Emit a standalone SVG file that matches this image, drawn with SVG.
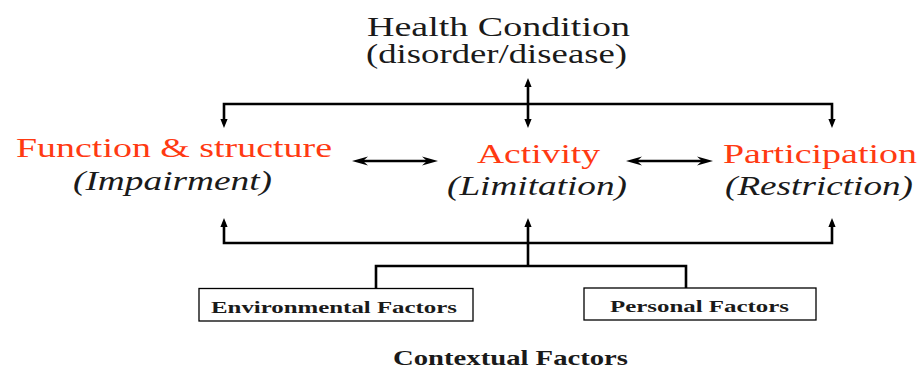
<svg xmlns="http://www.w3.org/2000/svg" width="920" height="371" viewBox="0 0 920 371">
  <defs>
    <marker id="ah" viewBox="0 0 10 10" refX="5" refY="5" markerWidth="9" markerHeight="9" markerUnits="userSpaceOnUse" orient="auto-start-reverse">
      <path d="M0,1 L10,5 L0,9 z" fill="#000"/>
    </marker>
    <marker id="hh" viewBox="0 0 16 10" refX="8" refY="5" markerWidth="16" markerHeight="10" markerUnits="userSpaceOnUse" orient="auto-start-reverse">
      <path d="M0,0.5 L16,5 L0,9.5 L5,5 z" fill="#000"/>
    </marker>
    <style>
      .ln { fill: none; stroke: #000; stroke-width: 2.6; }
      .box { fill: #fff; stroke: #000; stroke-width: 1.3; }
      .big { font-size: 27px; fill: #1a1a1a; }
      .red { font-size: 28px; fill: #ff3a12; }
      .it { font-size: 28px; font-style: italic; fill: #1a1a1a; }
      .bx { font-size: 17px; font-weight: bold; fill: #1a1a1a; }
      .ctx { font-size: 21px; font-weight: bold; fill: #1a1a1a; }
    </style>
  </defs>

  <g id="connectors">
    <path class="ln" d="M528,82.5 V123.5" marker-start="url(#ah)" marker-end="url(#ah)"/>
    <path class="ln" d="M224,123.5 V104 H832 V123.5" marker-start="url(#ah)" marker-end="url(#ah)"/>
    <path class="ln" d="M224,222.5 V243 H832 V222.5" marker-start="url(#ah)" marker-end="url(#ah)"/>
    <path class="ln" d="M528,266 V222.5" marker-end="url(#ah)"/>
    <path class="ln" d="M376,288 V266 H686 V288"/>
    <path class="ln" d="M360,161 H430" stroke-width="3" marker-start="url(#hh)" marker-end="url(#hh)"/>
    <path class="ln" d="M634,161 H705" stroke-width="3" marker-start="url(#hh)" marker-end="url(#hh)"/>
  </g>

  <g font-family="Liberation Serif, Times New Roman, serif">
  <g id="health-condition">
    <text class="big" x="367" y="36" textLength="263" lengthAdjust="spacingAndGlyphs">Health Condition</text>
    <text class="big" x="366" y="63" textLength="261" lengthAdjust="spacingAndGlyphs">(disorder/disease)</text>
  </g>

  <g id="function-structure">
    <text class="red" x="16" y="157" textLength="316" lengthAdjust="spacingAndGlyphs">Function &amp; structure</text>
    <text class="it" x="73" y="190" textLength="199" lengthAdjust="spacingAndGlyphs">(Impairment)</text>
  </g>

  <g id="activity">
    <text class="red" x="477" y="163" textLength="123" lengthAdjust="spacingAndGlyphs">Activity</text>
    <text class="it" x="447" y="195" textLength="180" lengthAdjust="spacingAndGlyphs">(Limitation)</text>
  </g>

  <g id="participation">
    <text class="red" x="723" y="163" textLength="194" lengthAdjust="spacingAndGlyphs">Participation</text>
    <text class="it" x="725" y="195" textLength="188" lengthAdjust="spacingAndGlyphs">(Restriction)</text>
  </g>

  <g id="environmental-factors">
    <rect class="box" x="199" y="288.5" width="274" height="32.5"/>
    <text class="bx" x="211" y="313" textLength="246" lengthAdjust="spacingAndGlyphs">Environmental Factors</text>
  </g>

  <g id="personal-factors">
    <rect class="box" x="584" y="288" width="232" height="32"/>
    <text class="bx" x="610" y="312" textLength="179" lengthAdjust="spacingAndGlyphs">Personal Factors</text>
  </g>

  <g id="contextual-factors">
    <text class="ctx" x="393" y="365" textLength="235" lengthAdjust="spacingAndGlyphs">Contextual Factors</text>
  </g>
  </g>
</svg>
